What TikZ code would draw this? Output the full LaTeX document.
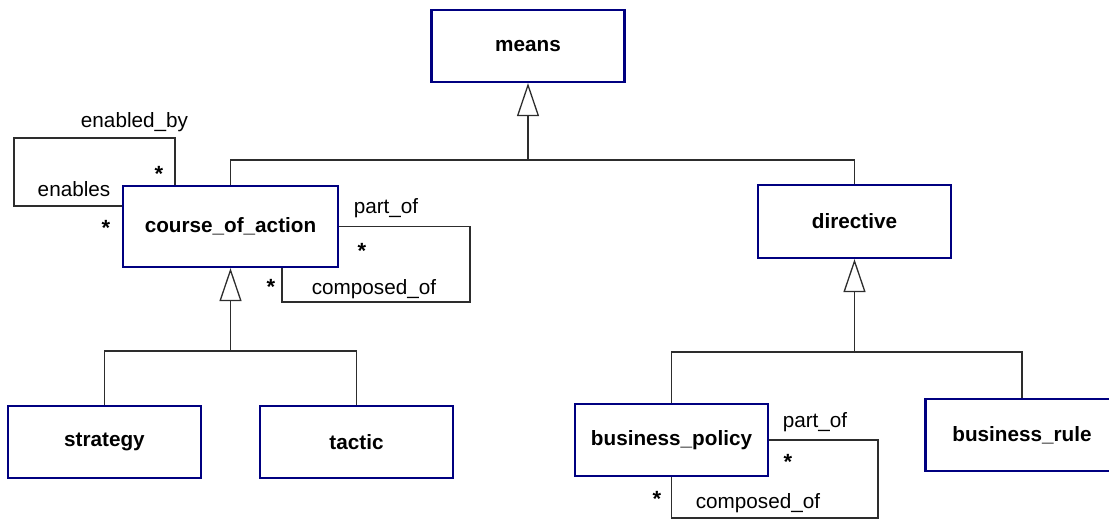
\documentclass[tikz,border=0pt]{standalone}
\usepackage{fontspec}
\setmainfont{Liberation Sans}
\usetikzlibrary{arrows.meta}
\definecolor{boxblue}{RGB}{0,0,128}
\definecolor{wire}{RGB}{45,45,45}
\begin{document}
\begin{tikzpicture}[x=1pt,y=-1pt,
  cls/.style={draw=boxblue, line width=2.2pt, fill=white, inner sep=0pt,
    minimum width=193pt, minimum height=72pt,
    font=\fontsize{20.7}{24}\selectfont\bfseries},
  wire/.style={draw=wire, line width=1.3pt},
  gen/.style={wire, -{Triangle[open, length=33pt, width=22pt, line width=1.3pt]}},
  role/.style={inner sep=0pt, anchor=base, font=\fontsize{20.7}{24}\selectfont},
  mult/.style={inner sep=0pt, anchor=base, font=\fontsize{22}{24}\selectfont\bfseries}]
\useasboundingbox (0,0) rectangle (1109,519);

% classes
\node[cls] (means) at (528,46) {means};
\node[cls, minimum width=215pt, minimum height=81pt] (coa) at (230.5,226.5) {course\_of\_action};
\node[cls, minimum height=73pt] (directive) at (854.5,221.5) {directive};
\node[cls] (strategy) at (104.5,442) {strategy};
\node[cls] (tactic) at (356.5,442) {tactic};
\node[cls] (bp) at (671.5,440) {business\_policy};
\node[cls] (br) at (1022,435) {business\_rule};

% generalisation trees
\coordinate (meansfork) at (528,160);
\coordinate (coafork) at (230.5,351);
\coordinate (dirfork) at (854.5,352);
\draw[wire] (coa.north) |- (meansfork) -| (directive.north);
\draw[gen] (meansfork) -- (means.south);
\draw[wire] (strategy.north) |- (coafork) -| (tactic.north);
\draw[gen] (coafork) -- (coa.south);
\draw[wire] (bp.north) |- (dirfork) -| (br.north);
\draw[gen] (dirfork) -- (directive.south);

% reflexive associations
\coordinate (enLoop) at (14,138);
\coordinate (coaLoop) at (470,302);
\coordinate (bpLoop) at (878,518);
\draw[wire] ([xshift=53pt]coa.north west) |- (enLoop) |- ([yshift=-21pt]coa.north west);
\draw[wire] (coa.east) -| (coaLoop) -| ([xshift=160pt]coa.south west);
\draw[wire] (bp.east) -| (bpLoop) -| (bp.south);

% role names and multiplicities
\node[role] (rEnabledBy) at (134.5,127) {enabled\_by};
\node[mult] (mEnabledBy) at (159,181) {*};
\node[role] (rEnables) at (74,196) {enables};
\node[mult] (mEnables) at (106,235) {*};
\node[role] (rCoaPart) at (386,213) {part\_of};
\node[mult] (mCoaPart) at (362,258) {*};
\node[mult] (mCoaComp) at (271,294) {*};
\node[role] (rCoaComp) at (374,294) {composed\_of};
\node[role] (rBpPart) at (815,427) {part\_of};
\node[mult] (mBpPart) at (788,469) {*};
\node[mult] (mBpComp) at (657,506) {*};
\node[role] (rBpComp) at (758,508) {composed\_of};
\end{tikzpicture}
\end{document}
